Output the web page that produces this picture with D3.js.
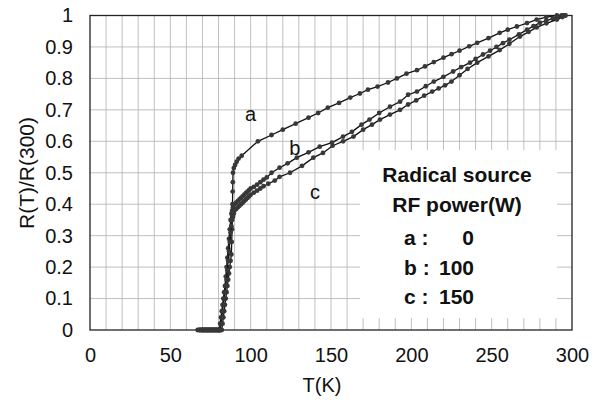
<!DOCTYPE html>
<html>
<head>
<meta charset="utf-8">
<script src="https://cdn.jsdelivr.net/npm/d3@7"></script>
<style>
  body { margin: 0; background: #fff; }
  svg { display: block; font-family: "Liberation Sans", Arial, sans-serif; }
</style>
</head>
<body>
<svg id="chart" width="600" height="407"></svg>
<script>
// temperatures (K) and normalised resistance R(T)/R(300) for each sample
var tempA = [67,68,69,70,71,72,73,74,75,76,77,78,79,80,81,82,
  82.5,83,83.5,84,84.5,85,85.5,86,86.5,87,87.5,88,88.2,88.4,88.6,88.7,88.8,88.9,89,89.5,90.3,91.3,92.5,94.4,
  104.5,113,120,128,136,142,148,155,162,168,173,179,185.5,191,197,203.5,208.5,
  214,220,225,230,236,241,248,255,260,265.7,272,278,284,290.6,293.5,295.6];
var resA = [0,0,0,0,0,0,0,0,0,0,0,0,0,0,0,0,
  0.02,0.04,0.06,0.08,0.1,0.12,0.14,0.16,0.18,0.2,0.22,0.24,0.28,0.32,0.36,0.40,0.44,0.47,0.50,0.515,0.525,0.535,0.545,0.554,
  0.60,0.62,0.637,0.656,0.675,0.69,0.707,0.722,0.739,0.752,0.764,0.774,0.787,0.80,0.815,0.826,0.838,
  0.852,0.866,0.877,0.888,0.902,0.913,0.928,0.945,0.955,0.965,0.976,0.987,0.995,1.0,1.0,1.0];

var tempB = [70,71,72,73,74,75,76,77,78,79,80,80.5,
  81,81.5,82,82.5,83,83.5,84,84.5,85,85.5,86,86.5,87,87.5,88,88.5,89,90,91,92,93,94,95,96,97,98,99,100,
  102,104,106,108,110,113,118,123,128.7,136,143,150.6,157.5,163,169,174,180,186.7,193,198,203.5,
  209,214,220,226,231,236.5,240,244.6,249,253,257,261,267,272,276,280,284,288,291,294.5];
var resB = [0,0,0,0,0,0,0,0,0,0,0,0,
  0.02,0.04,0.06,0.08,0.1,0.12,0.14,0.17,0.2,0.23,0.26,0.29,0.32,0.35,0.37,0.38,0.39,0.40,0.405,0.41,0.415,0.42,0.425,0.43,0.435,0.44,0.445,0.45,
  0.455,0.462,0.47,0.478,0.485,0.50,0.516,0.53,0.548,0.565,0.583,0.596,0.615,0.63,0.653,0.669,0.69,0.71,0.726,0.748,0.758,
  0.775,0.79,0.805,0.822,0.836,0.85,0.862,0.876,0.888,0.90,0.912,0.923,0.94,0.955,0.966,0.977,0.984,0.99,0.995,1.0];

var tempC = [68,69,70,71,72,73,74,75,76,77,78,79,80,80.5,81,
  81.5,82,82.5,83,83.5,84,84.5,85,85.5,86,86.5,87,87.5,88,88.5,89,89.5,90,91,92,93,94,95,96,97,98,99,100,
  102,104,106,108,111,115,118,124.5,132,139,145,151,157.5,164,170,175.5,180.5,186.7,193,198,
  203,208,213,217,221,225,230,235,241,248,255,261,267.6,273,278,284,290.6,294,296];
var resC = [0,0,0,0,0,0,0,0,0,0,0,0,0,0,0,
  0.02,0.04,0.06,0.08,0.1,0.12,0.14,0.16,0.19,0.22,0.25,0.28,0.31,0.33,0.35,0.36,0.37,0.38,0.385,0.39,0.395,0.40,0.405,0.41,0.415,0.42,0.425,0.43,
  0.437,0.443,0.45,0.457,0.465,0.475,0.487,0.50,0.522,0.548,0.563,0.586,0.60,0.615,0.637,0.653,0.669,0.685,0.70,0.717,
  0.73,0.745,0.758,0.768,0.778,0.79,0.81,0.83,0.85,0.87,0.89,0.91,0.933,0.948,0.962,0.975,0.987,0.995,1.0];

var xTicks = [0,50,100,150,200,250,300];
var yTicks = [0,0.1,0.2,0.3,0.4,0.5,0.6,0.7,0.8,0.9,1];
var legendLines = ["Radical source", "RF power(W)"];
var legendKeys = ["a :", "b :", "c :"];
var legendPower = ["0", "100", "150"];

var series = [
  {name: "a", t: tempA, r: resA, lab: [100, 0.665]},
  {name: "b", t: tempB, r: resB, lab: [127.5, 0.555]},
  {name: "c", t: tempC, r: resC, lab: [140, 0.415]}
];

var svg = d3.select("#chart");
var plotL = 90, plotR = 572, plotT = 15.5, plotB = 330;

var x = d3.scaleLinear().domain([0, 300]).range([plotL, plotR]);
var y = d3.scaleLinear().domain([0, 1]).range([plotB, plotT]);

// grid, every 10 K and every 0.1
svg.append("g").selectAll("line").data(d3.range(10, 300, 10))
  .enter().append("line")
  .attr("x1", d => x(d)).attr("x2", d => x(d))
  .attr("y1", plotT).attr("y2", plotB)
  .style("stroke", "#b0b0b0").style("stroke-width", 0.8);
svg.append("g").selectAll("line").data(yTicks.slice(1, -1))
  .enter().append("line")
  .attr("x1", plotL).attr("x2", plotR)
  .attr("y1", d => y(d)).attr("y2", d => y(d))
  .style("stroke", "#b0b0b0").style("stroke-width", 0.8);

// legend box hides the grid behind it
svg.append("rect")
  .attr("x", 360).attr("y", 150).attr("width", 197).attr("height", 168)
  .style("fill", "#fff");

svg.append("rect")
  .attr("x", plotL).attr("y", plotT)
  .attr("width", plotR - plotL).attr("height", plotB - plotT)
  .style("fill", "none").style("stroke", "#222").style("stroke-width", 1.3);

// axes: labels only
var xAxis = d3.axisBottom(x).tickValues(xTicks).tickSize(0).tickPadding(18);
var yAxis = d3.axisLeft(y).tickValues(yTicks).tickSize(0).tickPadding(17)
  .tickFormat(d3.format("~g"));

svg.append("g").attr("transform", "translate(0," + plotB + ")").call(xAxis)
  .call(g => g.select(".domain").remove());
svg.append("g").attr("transform", "translate(" + plotL + ",0)").call(yAxis)
  .call(g => g.select(".domain").remove());

svg.selectAll(".tick text")
  .style("font-family", "Liberation Sans, Arial, sans-serif")
  .style("font-size", "20px").style("fill", "#111");

svg.append("text").attr("x", 322).attr("y", 392)
  .attr("text-anchor", "middle").style("font-size", "20px").style("fill", "#111")
  .text("T(K)");
svg.append("text")
  .attr("transform", "translate(34,173) rotate(-90)")
  .attr("text-anchor", "middle").style("font-size", "21px").style("fill", "#111")
  .text("R(T)/R(300)");

// curves with markers
var line = d3.line().x(d => x(d[0])).y(d => y(d[1]));
series.forEach(function(s) {
  var pts = s.t.map((t, i) => [t, s.r[i]]);
  svg.append("path").datum(pts)
    .attr("d", line)
    .style("fill", "none").style("stroke", "#111").style("stroke-width", 1.3);
  svg.append("g").selectAll("circle").data(pts)
    .enter().append("circle")
    .attr("cx", d => x(d[0])).attr("cy", d => y(d[1])).attr("r", 2.4)
    .style("fill", "#383838");
  svg.append("text")
    .attr("x", x(s.lab[0])).attr("y", y(s.lab[1]))
    .attr("text-anchor", "middle").style("font-size", "20px").style("fill", "#111")
    .text(s.name);
});

// legend text
var lg = svg.append("g").style("font-size", "21px").style("font-weight", "bold").style("fill", "#111");
legendLines.forEach(function(t, i) {
  lg.append("text").attr("x", 457).attr("y", 182 + i * 29.5)
    .attr("text-anchor", "middle").text(t);
});
legendKeys.forEach(function(k, i) {
  lg.append("text").attr("x", 404).attr("y", 245 + i * 29.5).text(k);
  lg.append("text").attr("x", 474).attr("y", 245 + i * 29.5)
    .attr("text-anchor", "end").text(legendPower[i]);
});
</script>
</body>
</html>
